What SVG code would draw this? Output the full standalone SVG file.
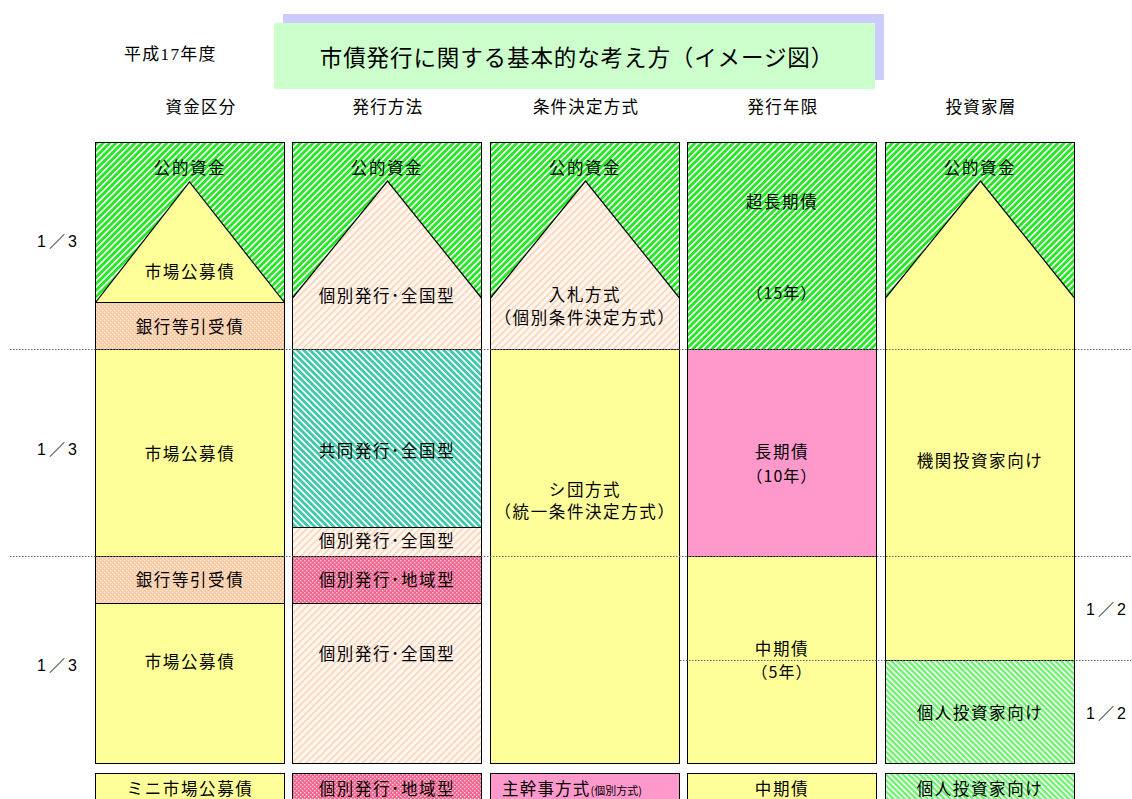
<svg xmlns="http://www.w3.org/2000/svg" width="1132" height="799" viewBox="0 0 1132 799">
<style>
text{font-family:"Noto Sans CJK JP","Noto Sans",sans-serif;fill:#000;}
.t{font-size:16.5px;letter-spacing:1.6px;text-anchor:middle;}
.h{font-size:16.5px;letter-spacing:1.2px;text-anchor:middle;}
.f{font-size:16px;letter-spacing:1px;text-anchor:middle;}
.fr{font-family:"Liberation Sans","Noto Sans CJK JP",sans-serif;font-size:16px;letter-spacing:3px;}
.box{stroke:#000;stroke-width:1;}
.tri{fill:none;stroke:#000;stroke-width:1.2;}
.dot{stroke:#666;stroke-width:1;stroke-dasharray:1.5,1.5;fill:none;}
</style>
<defs>
<pattern id="gH" patternUnits="userSpaceOnUse" width="4.5" height="4.5" patternTransform="rotate(45)">
<rect width="4.5" height="4.5" fill="#22e822"/><rect width="1.7" height="4.5" fill="#ffffff"/>
</pattern>
<pattern id="gH2" patternUnits="userSpaceOnUse" width="4" height="4" patternTransform="rotate(-45)">
<rect width="4" height="4" fill="#6df06d"/><rect width="1.6" height="4" fill="#ffffff"/>
</pattern>
<pattern id="oH" patternUnits="userSpaceOnUse" width="5" height="5" patternTransform="rotate(45)">
<rect width="5" height="5" fill="#fff7f0"/><rect width="1.6" height="5" fill="#f9d3b6"/>
</pattern>
<pattern id="tH" patternUnits="userSpaceOnUse" width="4.5" height="4.5" patternTransform="rotate(-45)">
<rect width="4.5" height="4.5" fill="#3cc9aa"/><rect width="1.8" height="4.5" fill="#ffffff"/>
</pattern>
<pattern id="pD" patternUnits="userSpaceOnUse" width="4" height="4">
<rect width="4" height="4" fill="#f0648f"/><rect x="0" y="0" width="1.4" height="1.4" fill="#ffd0e0"/><rect x="2" y="2" width="1.4" height="1.4" fill="#ffd0e0"/>
</pattern>
<pattern id="bD" patternUnits="userSpaceOnUse" width="4" height="4">
<rect width="4" height="4" fill="#fbcba6"/><rect x="0" y="0" width="1.3" height="1.3" fill="#fff0e4"/><rect x="2" y="2" width="1.3" height="1.3" fill="#fff0e4"/>
</pattern>
</defs>
<rect width="1132" height="799" fill="#fff"/>

<g id="title">
<rect x="283" y="14" width="601" height="66" fill="#ccccff"/>
<rect x="274" y="23" width="601" height="66" fill="#ccffcc"/>
<text x="577" y="66" style="font-size:22.5px;letter-spacing:0.9px;text-anchor:middle">市債発行に関する基本的な考え方（イメージ図）</text>
</g>
<text x="124" y="60" style="font-family:'Liberation Serif','Noto Sans CJK JP',serif;font-size:17px;letter-spacing:1.3px">平成17年度</text>

<g id="headers">
<text class="h" x="201" y="113">資金区分</text>
<text class="h" x="388" y="113">発行方法</text>
<text class="h" x="586" y="113">条件決定方式</text>
<text class="h" x="783" y="113">発行年限</text>
<text class="h" x="981" y="113">投資家層</text>
</g>

<g id="fractions">
<text class="fr" x="37" y="247">1／3</text>
<text class="fr" x="37" y="455">1／3</text>
<text class="fr" x="37" y="671">1／3</text>
<text class="fr" x="1086" y="615">1／2</text>
<text class="fr" x="1086" y="719">1／2</text>
</g>

<g id="col1">
<rect class="box" x="95.5" y="142.5" width="189" height="160" fill="url(#gH)"/>
<polygon points="95.5,302.5 189.5,182 284.5,302.5" fill="#ffff99"/>
<polyline class="tri" points="95.5,302.5 189.5,182 284.5,302.5"/>
<rect class="box" x="95.5" y="302.5" width="189" height="47" fill="url(#bD)"/>
<rect class="box" x="95.5" y="349.5" width="189" height="207" fill="#ffff99"/>
<rect class="box" x="95.5" y="556.5" width="189" height="47" fill="url(#bD)"/>
<rect class="box" x="95.5" y="603.5" width="189" height="160" fill="#ffff99"/>
<text class="t" x="190" y="174">公的資金</text>
<text class="t" x="190" y="278">市場公募債</text>
<text class="t" x="190" y="333">銀行等引受債</text>
<text class="t" x="190" y="460">市場公募債</text>
<text class="t" x="190" y="586">銀行等引受債</text>
<text class="t" x="190" y="668">市場公募債</text>
</g>

<g id="col2">
<rect class="box" x="292.5" y="142.5" width="189" height="207" fill="url(#gH)"/>
<polygon points="292.5,298 387.5,181 481.5,298 481.5,349.5 292.5,349.5" fill="url(#oH)"/>
<polyline class="tri" points="292.5,298 387.5,181 481.5,298"/>
<rect class="box" x="292.5" y="142.5" width="189" height="207" fill="none"/>
<rect class="box" x="292.5" y="349.5" width="189" height="178" fill="url(#tH)"/>
<rect class="box" x="292.5" y="527.5" width="189" height="29" fill="url(#oH)"/>
<rect class="box" x="292.5" y="556.5" width="189" height="47" fill="url(#pD)"/>
<rect class="box" x="292.5" y="603.5" width="189" height="160" fill="url(#oH)"/>
<text class="t" x="387" y="174">公的資金</text>
<text class="t" x="387" y="302">個別発行･全国型</text>
<text class="t" x="387" y="457">共同発行･全国型</text>
<text class="t" x="387" y="547">個別発行･全国型</text>
<text class="t" x="387" y="586">個別発行･地域型</text>
<text class="t" x="387" y="660">個別発行･全国型</text>
</g>

<g id="col3">
<rect class="box" x="490.5" y="142.5" width="189" height="207" fill="url(#gH)"/>
<polygon points="490.5,298 585.5,181 679.5,298 679.5,349.5 490.5,349.5" fill="url(#oH)"/>
<polyline class="tri" points="490.5,298 585.5,181 679.5,298"/>
<rect class="box" x="490.5" y="142.5" width="189" height="207" fill="none"/>
<rect class="box" x="490.5" y="349.5" width="189" height="414" fill="#ffff99"/>
<text class="t" x="585" y="174">公的資金</text>
<text class="t" x="585" y="301">入札方式</text>
<text class="t" x="585" y="324">（個別条件決定方式）</text>
<text class="t" x="585" y="496">シ団方式</text>
<text class="t" x="585" y="518">（統一条件決定方式）</text>
</g>

<g id="col4">
<rect class="box" x="687.5" y="142.5" width="189" height="207" fill="url(#gH)"/>
<rect class="box" x="687.5" y="349.5" width="189" height="207" fill="#ff99cc"/>
<rect class="box" x="687.5" y="556.5" width="189" height="207" fill="#ffff99"/>
<text class="t" x="782" y="208">超長期債</text>
<text class="f" x="782" y="299">（15年）</text>
<text class="t" x="782" y="458">長期債</text>
<text class="f" x="782" y="482">（10年）</text>
<text class="t" x="782" y="655">中期債</text>
<text class="f" x="782" y="678">（5年）</text>
</g>

<g id="col5">
<rect class="box" x="885.5" y="142.5" width="189" height="518" fill="url(#gH)"/>
<polygon points="885.5,298 980.5,181 1074.5,298 1074.5,660.5 885.5,660.5" fill="#ffff99"/>
<polyline class="tri" points="885.5,298 980.5,181 1074.5,298"/>
<rect class="box" x="885.5" y="142.5" width="189" height="518" fill="none"/>
<rect class="box" x="885.5" y="660.5" width="189" height="103" fill="url(#gH2)"/>
<text class="t" x="980" y="174">公的資金</text>
<text class="t" x="980" y="467">機関投資家向け</text>
<text class="t" x="980" y="719">個人投資家向け</text>
</g>

<g id="bottom1">
<rect class="box" x="95.5" y="773.5" width="189" height="40" fill="#ffff99"/>
<text class="t" x="190" y="795">ミニ市場公募債</text>
</g>
<g id="bottom2">
<rect class="box" x="292.5" y="773.5" width="189" height="40" fill="url(#pD)"/>
<text class="t" x="387" y="795">個別発行･地域型</text>
</g>
<g id="bottom3">
<rect class="box" x="490.5" y="773.5" width="189" height="40" fill="#ff99cc"/>
<text x="502" y="795" style="font-size:16.5px;letter-spacing:1.2px">主幹事方式<tspan style="font-size:11px;letter-spacing:0">(個別方式)</tspan></text>
</g>
<g id="bottom4">
<rect class="box" x="687.5" y="773.5" width="189" height="40" fill="#ffff99"/>
<text class="t" x="782" y="795">中期債</text>
</g>
<g id="bottom5">
<rect class="box" x="885.5" y="773.5" width="189" height="40" fill="url(#gH2)"/>
<text class="t" x="980" y="795">個人投資家向け</text>
</g>

<g id="connectors">
<line class="dot" x1="10" y1="349.5" x2="1132" y2="349.5"/>
<line class="dot" x1="10" y1="556.5" x2="1132" y2="556.5"/>
<line class="dot" x1="680" y1="660.5" x2="1132" y2="660.5"/>
</g>
</svg>
